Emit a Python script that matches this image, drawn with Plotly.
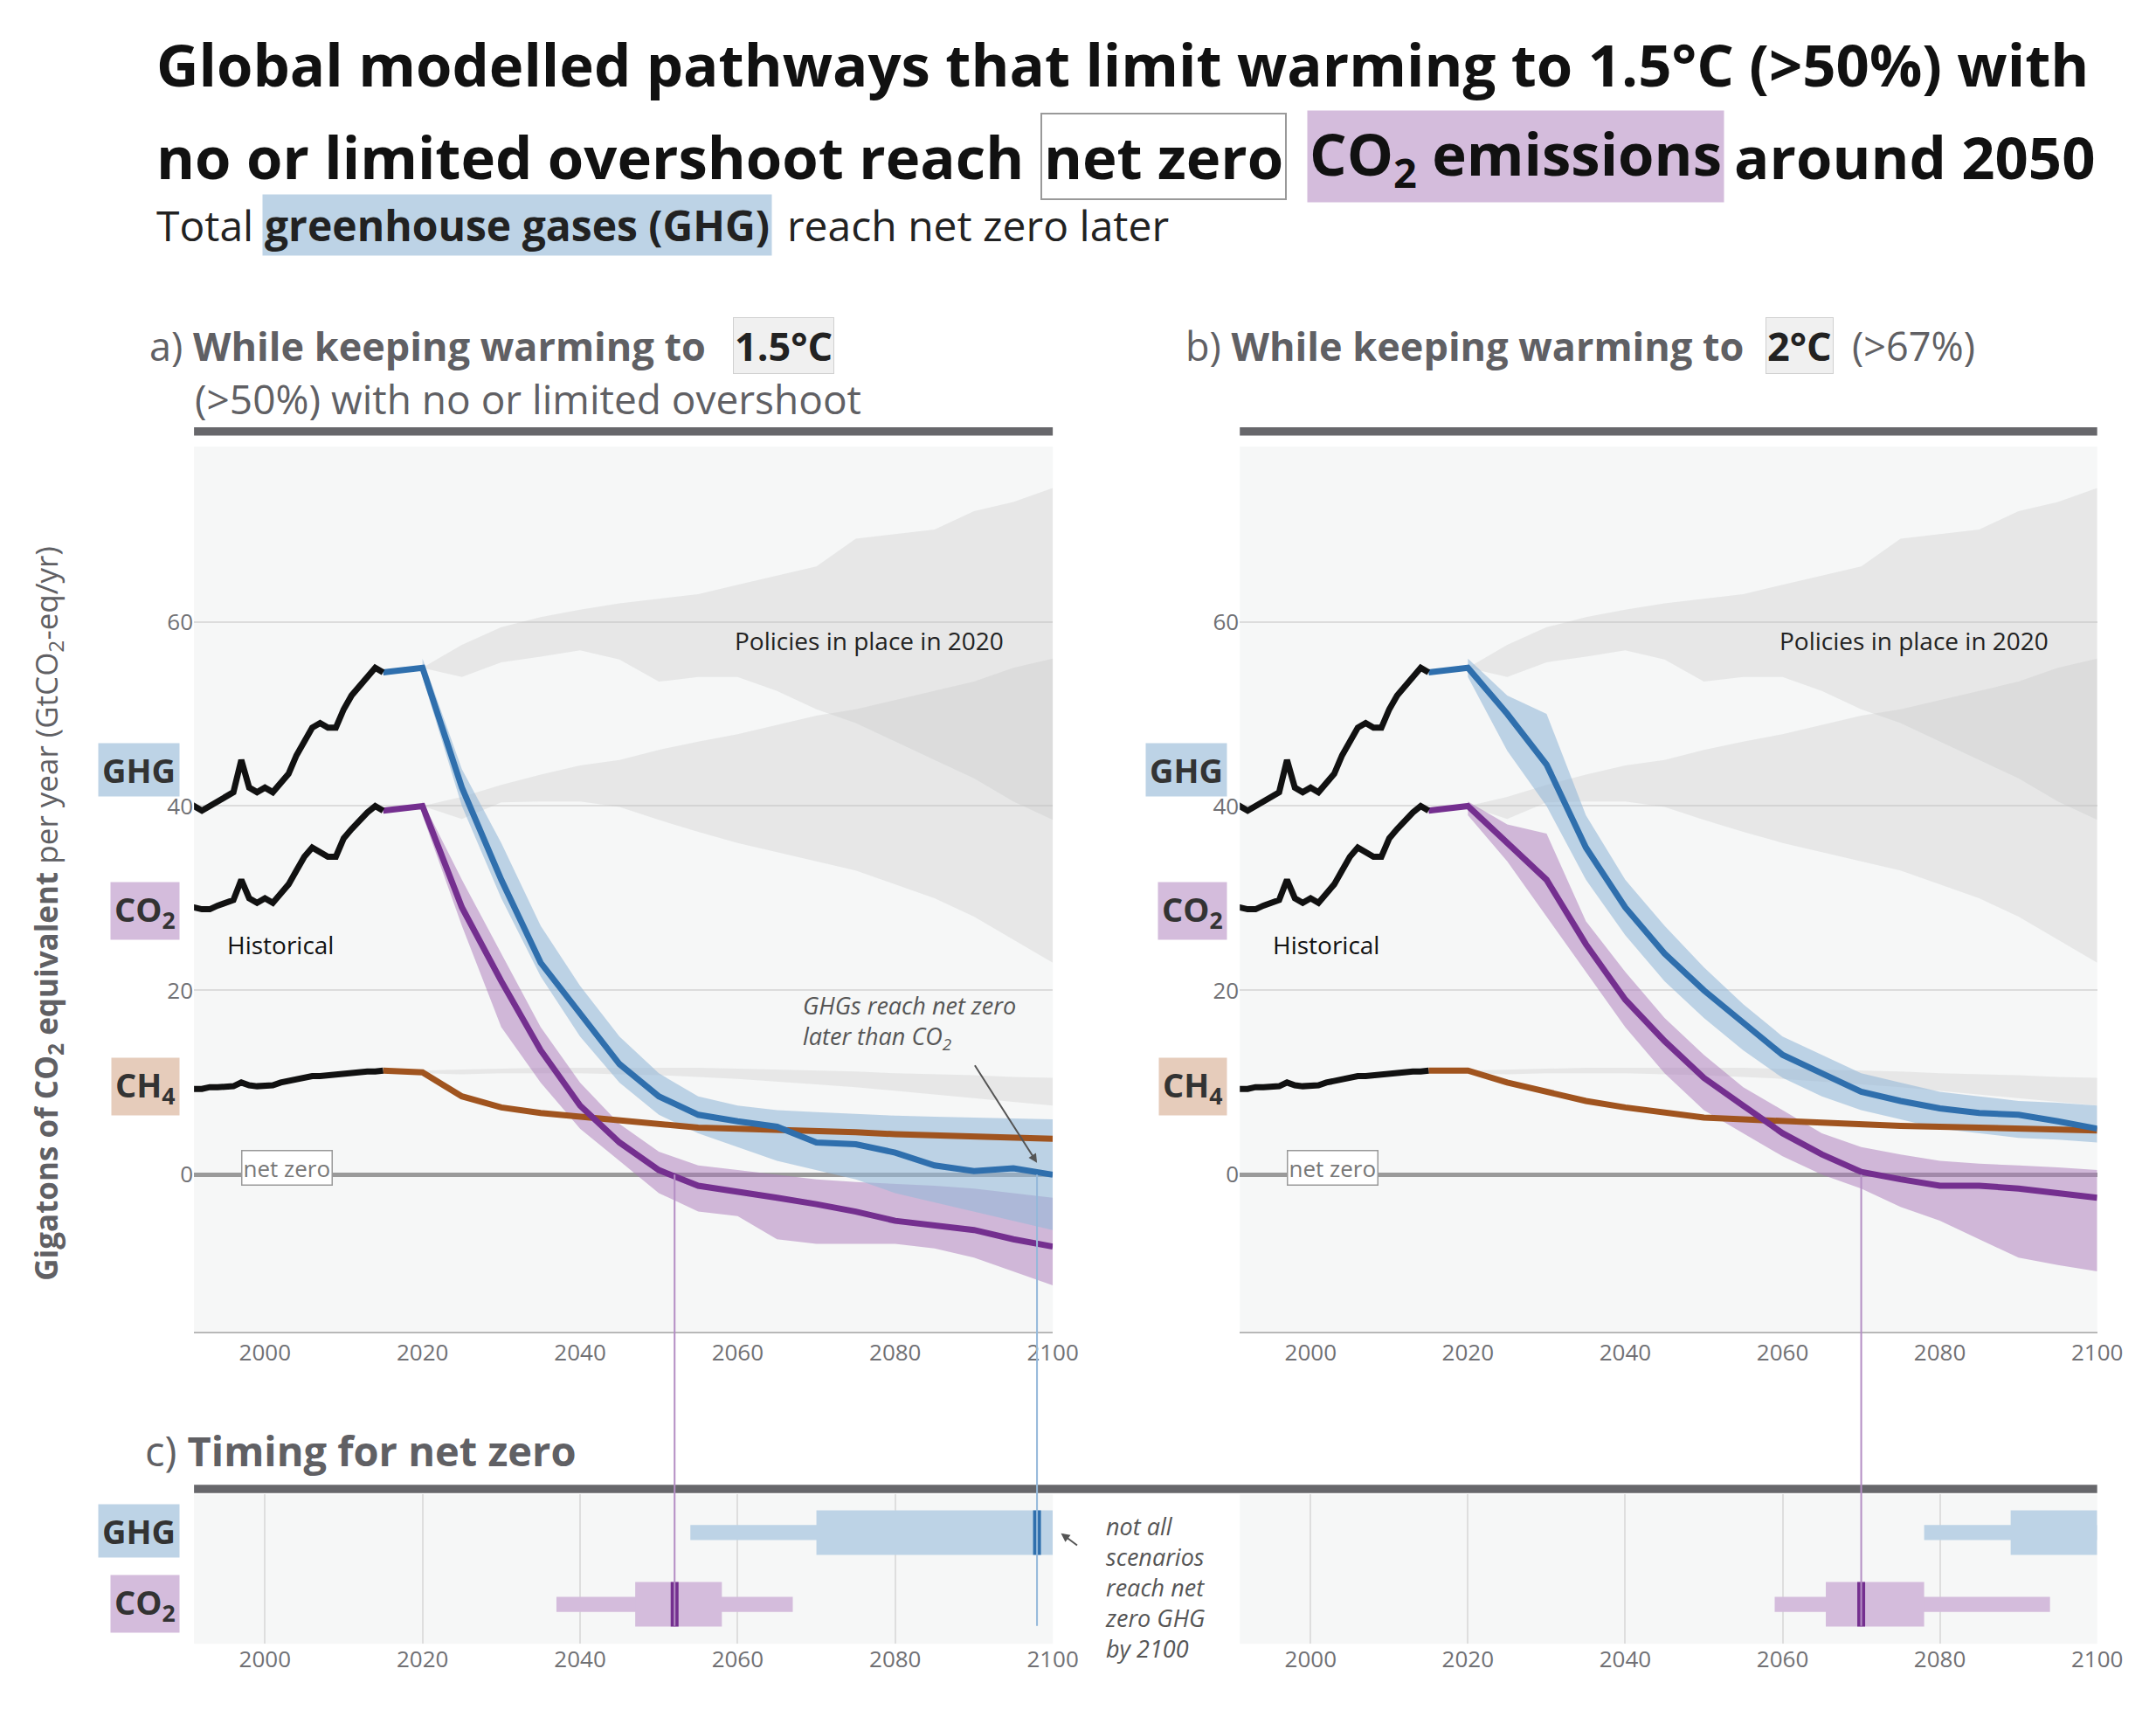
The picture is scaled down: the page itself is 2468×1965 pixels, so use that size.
import plotly.graph_objects as go

# ---- data ----
hist_years = list(range(1990, 2016))
hist_ghg = [40.5, 40, 39.5, 40, 40.5, 41, 41.5, 45, 42, 41.5, 42, 41.5, 42.5, 43.5, 45.5, 47, 48.5, 49, 48.5, 48.5, 50.5, 52, 53, 54, 55, 54.5]
hist_co2 = [29, 29, 28.8, 28.8, 29.2, 29.5, 29.8, 32, 30, 29.5, 30, 29.5, 30.5, 31.5, 33, 34.5, 35.5, 35, 34.5, 34.5, 36.5, 37.5, 38.5, 39.3, 40, 39.5]
hist_ch4 = [9.5, 9.3, 9.3, 9.5, 9.5, 9.5, 9.6, 10, 9.7, 9.6, 9.6, 9.7, 10, 10.2, 10.4, 10.6, 10.7, 10.7, 10.8, 10.8, 10.9, 11, 11.1, 11.2, 11.2, 11.3]

path_years = list(range(2015, 2101, 5))
band_years = list(range(2020, 2101, 5))

ghg_a = [54.5, 55, 42, 32, 23, 17.5, 12, 8.5, 6.5, 5.8, 5.2, 3.5, 3.3, 2.4, 1.0, 0.4, 0.7, 0]
ghg_a_hi = [56, 44, 36, 27, 20.5, 15, 11, 8.5, 7.5, 7, 6.8, 6.6, 6.4, 6.3, 6.2, 6.1, 6.0]
ghg_a_lo = [54, 40, 30, 21.5, 15, 10, 6.5, 4.5, 3, 1.5, 0.5, -0.5, -2, -3, -4, -5, -6]
co2_a = [39.5, 40, 29, 21, 13.5, 7.5, 3.5, 0.5, -1.2, -1.8, -2.5, -3.2, -4, -5, -5.5, -6, -7, -7.8]
co2_a_hi = [40.5, 32, 24, 16, 10, 5.5, 2.5, 1, 0.5, 0, -0.5, -0.8, -1, -1.2, -1.5, -2, -2.5]
co2_a_lo = [39, 27, 16, 10, 5, 1.5, -2, -4, -4.5, -7, -7.5, -7.5, -7.5, -8, -9, -10.5, -12]
ch4_a = [11.3, 11.1, 8.5, 7.3, 6.7, 6.3, 5.9, 5.5, 5.1, 5.0, 4.9, 4.8, 4.6, 4.4, 4.3, 4.2, 4.0, 3.9]

ghg_b = [54.5, 55, 50, 44.5, 35.5, 29, 24, 20, 16.5, 13, 11, 9, 8, 7.2, 6.7, 6.5, 5.8, 5]
ghg_b_hi = [56, 52, 50, 39, 32, 27, 22.5, 18.5, 15, 13, 11, 10, 9, 8.5, 8, 7.8, 7.5]
ghg_b_lo = [54, 46, 40, 32, 26, 21, 17, 13.5, 10.5, 8.5, 7, 6, 5, 4.5, 4, 3.8, 3.5]
co2_b = [39.5, 40, 36, 32, 25, 19, 14.5, 10.5, 7.5, 4.5, 2.2, 0.3, -0.5, -1.2, -1.2, -1.5, -2, -2.5]
co2_b_hi = [40.5, 38, 37, 27.5, 22, 17, 13, 9.5, 7, 4.5, 3, 2.2, 1.5, 1.2, 1, 0.8, 0.5]
co2_b_lo = [39, 34, 28, 22, 16, 11, 7, 4.5, 2, 0, -1.5, -3.5, -5, -7, -9, -9.8, -10.5]
ch4_b = [11.3, 11.3, 10, 9, 8, 7.3, 6.8, 6.2, 6.0, 5.8, 5.6, 5.4, 5.3, 5.2, 5.1, 5.0, 4.9, 4.8]

# "Policies in place in 2020": two overlapping ranges
pol_upper_hi = [55, 57.5, 59.4, 60.5, 61.3, 62, 62.5, 63, 64, 65, 66, 69, 69.5, 70, 72, 73, 74.5]
pol_upper_lo = [55, 54, 55.6, 56.2, 56.9, 55.9, 53.5, 54, 54, 52.5, 50.5, 49, 47, 45, 43, 40.5, 38.5]
pol_lower_hi = [40, 41, 42.3, 43.4, 44.4, 45, 46.1, 47, 47.8, 48.8, 49.8, 50.5, 51.5, 52.5, 53.5, 55, 56]
pol_lower_lo = [40, 38.6, 40.4, 40.5, 40.5, 39.9, 38.5, 37.2, 36, 35, 34, 33, 31.5, 30, 28, 25.5, 23]
pol_ch4_hi = [11.3, 11.4, 11.5, 11.6, 11.6, 11.6, 11.6, 11.6, 11.5, 11.4, 11.3, 11.2, 11, 10.9, 10.8, 10.6, 10.5]
pol_ch4_lo = [11, 10.9, 11, 11, 11, 10.9, 10.8, 10.6, 10.4, 10.1, 9.8, 9.5, 9.1, 8.7, 8.3, 7.9, 7.5]

# net-zero timing: [whisker lo, box lo, median, box hi, whisker hi]; None = beyond 2100
nz_ghg_a = [2054, 2070, 2098, 2100, 2100]
nz_co2_a = [2037, 2047, 2052, 2058, 2067]
nz_ghg_b = [2078, 2089, None, 2100, 2100]
nz_co2_b = [2059, 2065.5, 2070, 2078, 2094]

BLUE, BLUE_BAND = "#2f6fad", "rgba(150,185,216,0.6)"
PURPLE, PURPLE_BAND = "#742f8f", "rgba(170,120,185,0.5)"
BROWN = "#a0541f"
GREY_BAND = "rgba(195,197,197,0.3)"
FONT = "Open Sans"
TXT = "#606064"

W, H = 2468, 1965


# positions below were measured on a 1560 px wide copy of the reference
def px(v):
    return v / 1560


def py(v):
    return 1 - (v - 4) / 1242


fig = go.Figure()


def band(x, lo, hi, color, xa, ya):
    fig.add_trace(go.Scatter(x=x + x[::-1], y=hi + lo[::-1], fill="toself", fillcolor=color,
                             line=dict(width=0), mode="lines", hoverinfo="skip",
                             showlegend=False, xaxis=xa, yaxis=ya))


def line(x, y, color, xa, ya, w=7):
    fig.add_trace(go.Scatter(x=x, y=y, mode="lines", line=dict(color=color, width=w),
                             showlegend=False, xaxis=xa, yaxis=ya))


panels = [("x", "y", ghg_a, ghg_a_lo, ghg_a_hi, co2_a, co2_a_lo, co2_a_hi, ch4_a),
          ("x2", "y2", ghg_b, ghg_b_lo, ghg_b_hi, co2_b, co2_b_lo, co2_b_hi, ch4_b)]
for xa, ya, g, glo, ghi, c, clo, chi, m in panels:
    band(band_years, pol_upper_lo, pol_upper_hi, GREY_BAND, xa, ya)
    band(band_years, pol_lower_lo, pol_lower_hi, GREY_BAND, xa, ya)
    band(band_years, pol_ch4_lo, pol_ch4_hi, GREY_BAND, xa, ya)
    band(band_years, clo, chi, PURPLE_BAND, xa, ya)
    band(band_years, glo, ghi, BLUE_BAND, xa, ya)
    line(path_years, m, BROWN, xa, ya)
    line(path_years, c, PURPLE, xa, ya)
    line(path_years, g, BLUE, xa, ya)
    line(hist_years, hist_ghg, "#111111", xa, ya)
    line(hist_years, hist_co2, "#111111", xa, ya)
    line(hist_years, hist_ch4, "#111111", xa, ya)

# timing panels
timing = [("x3", "y3", nz_ghg_a, nz_co2_a), ("x4", "y4", nz_ghg_b, nz_co2_b)]
for xa, ya, g, c in timing:
    for vals, yv, col, band_col in [(g, 1, BLUE, "#bdd3e6"), (c, 0, PURPLE, "#d4bcdc")]:
        fig.add_trace(go.Bar(x=[vals[4] - vals[0]], base=[vals[0]], y=[yv], orientation="h",
                             width=0.21, marker=dict(color=band_col, line=dict(width=0)),
                             showlegend=False, xaxis=xa, yaxis=ya))
        fig.add_trace(go.Bar(x=[vals[3] - vals[1]], base=[vals[1]], y=[yv], orientation="h",
                             width=0.62, marker=dict(color=band_col, line=dict(width=0)),
                             showlegend=False, xaxis=xa, yaxis=ya))
        if vals[2] is not None:
            fig.add_trace(go.Scatter(x=[vals[2], vals[2]], y=[yv - 0.31, yv + 0.31], mode="lines",
                                     line=dict(color=col, width=9), showlegend=False,
                                     xaxis=xa, yaxis=ya))

xa_dom = [px(137), px(766)]
xb_dom = [px(903), px(1531)]
top_dom = [py(962), py(322)]
c_dom = [py(1188), py(1080)]
yr = [-17, 79]
tick_font = dict(family=FONT, size=26, color="#707074")

common_x = dict(range=[1991, 2100], tickvals=list(range(2000, 2101, 20)), showgrid=False,
                zeroline=False, tickfont=tick_font, ticks="", showline=True,
                linecolor="#b8b8b8", linewidth=2)
common_y = dict(range=yr, tickvals=[0, 20, 40, 60], gridcolor="#dcdcdc", gridwidth=1.5,
                zeroline=True, zerolinecolor="#9a9a9a", zerolinewidth=5,
                tickfont=tick_font, ticks="", showline=False)
c_x = dict(common_x, showgrid=True, gridcolor="#dedede", gridwidth=1.5, showline=False)
c_y = dict(range=[-0.55, 1.53], showticklabels=False, showgrid=False, zeroline=False)

fig.update_layout(
    width=W, height=H, margin=dict(l=0, r=0, t=0, b=0),
    paper_bgcolor="white", plot_bgcolor="#f6f7f7", barmode="overlay",
    font=dict(family=FONT, color=TXT),
    xaxis=dict(common_x, domain=xa_dom, anchor="y"),
    yaxis=dict(common_y, domain=top_dom, anchor="x"),
    xaxis2=dict(common_x, domain=xb_dom, anchor="y2"),
    yaxis2=dict(common_y, domain=top_dom, anchor="x2"),
    xaxis3=dict(c_x, domain=xa_dom, anchor="y3"),
    yaxis3=dict(c_y, domain=c_dom, anchor="x3"),
    xaxis4=dict(c_x, domain=xb_dom, anchor="y4"),
    yaxis4=dict(c_y, domain=c_dom, anchor="x4"),
)

shapes = []
# thick dark header bars
for x0, x1, yy in [(137, 766, 311), (903, 1531, 311), (137, 1531, 1076)]:
    shapes.append(dict(type="rect", xref="paper", yref="paper", x0=px(x0), x1=px(x1),
                       y0=py(yy + 3), y1=py(yy - 3), fillcolor="#67676b", line=dict(width=0)))
# vertical connector lines from the net-zero crossing down to the timing panel
zero_paper = top_dom[0] + (0 - yr[0]) / (yr[1] - yr[0]) * (top_dom[1] - top_dom[0])
for xref, xv, col in [("x", nz_co2_a[2], "#b48ec4"), ("x", nz_ghg_a[2], "#94b8da"),
                      ("x2", nz_co2_b[2], "#b48ec4")]:
    shapes.append(dict(type="line", xref=xref, yref="paper", x0=xv, x1=xv,
                       y0=zero_paper, y1=py(1175), line=dict(color=col, width=2)))
fig.update_layout(shapes=shapes)

ann = []


def text(x, y, t, size, color=TXT, xanchor="left", yanchor="middle", **kw):
    ann.append(dict(x=x, y=y, xref="paper", yref="paper", text=t, showarrow=False,
                    xanchor=xanchor, yanchor=yanchor, font=dict(family=FONT, size=size, color=color), **kw))


# title
text(px(108), py(45), "<b>Global modelled pathways that limit warming to 1.5°C (>50%) with</b>", 67, "#111")
text(px(108), py(112), "<b>no or limited overshoot reach</b>", 67, "#111")
text(px(757), py(112), "<b>net zero</b>", 67, "#111", bgcolor="white", bordercolor="#999", borderwidth=2, borderpad=2)
text(px(952), py(112), "<b>CO<sub>2</sub> emissions</b>", 67, "#111", bgcolor="#d4bcdc", borderpad=2)
text(px(1264), py(112), "<b>around 2050</b>", 67, "#111")
text(px(108), py(162), "Total", 48, "#222")
text(px(187), py(162), "<b>greenhouse gases (GHG)</b>", 48, "#222", bgcolor="#bdd3e6", borderpad=2)
text(px(570), py(162), "reach net zero later", 48, "#222")

# panel titles
text(px(103), py(249), "a) <b>While keeping warming to</b>", 45)
text(px(532), py(249), "<b>1.5°C</b>", 45, "#222", bgcolor="#f0f0f0", bordercolor="#d0d0d0", borderwidth=1)
text(px(136), py(287), "(>50%) with no or limited overshoot", 46)
text(px(862), py(249), "b) <b>While keeping warming to</b>", 45)
text(px(1288), py(249), "<b>2°C</b>", 45, "#222", bgcolor="#f0f0f0", bordercolor="#d0d0d0", borderwidth=1)
text(px(1350), py(249), "(>67%)", 45)
text(px(100), py(1048), "c) <b>Timing for net zero</b>", 47)

# series labels
for xr, yv, t, bg in [(127, 556, "<b>GHG</b>", "#bdd3e6"), (127, 658, "<b>CO<sub>2</sub></b>", "#d4bcdc"),
                      (127, 785, "<b>CH<sub>4</sub></b>", "#e6ccbb")]:
    for dx in (0, 767):
        text(px(xr + dx), py(yv), t, 38, "#333", xanchor="right", bgcolor=bg, borderpad=4)
for yv, t, bg in [(1106, "<b>GHG</b>", "#bdd3e6"), (1159, "<b>CO<sub>2</sub></b>", "#d4bcdc")]:
    text(px(127), py(yv), t, 38, "#333", xanchor="right", bgcolor=bg, borderpad=4)

# y-axis title
text(px(30), py(660), "<b>Gigatons of CO<sub>2</sub> equivalent</b> per year (GtCO<sub>2</sub>-eq/yr)", 35,
     xanchor="center", textangle=-90)

# data-anchored notes
for xa, ya in [("x", "y"), ("x2", "y2")]:
    ann.append(dict(x=2100 - 6, y=58, xref=xa, yref=ya, text="Policies in place in 2020", showarrow=False,
                    xanchor="right", font=dict(family=FONT, size=28, color="#222")))
    ann.append(dict(x=1995, y=25, xref=xa, yref=ya, text="Historical", showarrow=False,
                    xanchor="left", font=dict(family=FONT, size=28, color="#111")))
    ann.append(dict(x=1997, y=0.7, xref=xa, yref=ya, text="net zero", showarrow=False, xanchor="left",
                    bgcolor="white", bordercolor="#999", borderwidth=1.5,
                    font=dict(family=FONT, size=26, color="#777")))
ann.append(dict(x=2098, y=1.3, xref="x", yref="y", ax=2090, ay=12, axref="x", ayref="y",
                text="", showarrow=True, arrowhead=2, arrowwidth=2, arrowcolor="#555"))
ann.append(dict(x=2068, y=16.5, xref="x", yref="y", text="<i>GHGs reach net zero<br>later than CO<sub>2</sub></i>",
                showarrow=False, xanchor="left", align="left", font=dict(family=FONT, size=27, color="#555")))
ann.append(dict(x=px(803), y=py(1090), xref="paper", yref="paper",
                text="<i>not all<br>scenarios<br>reach net<br>zero GHG<br>by 2100</i>", showarrow=False,
                xanchor="left", yanchor="top", align="left", font=dict(family=FONT, size=27, color="#555")))
ann.append(dict(x=px(772), y=py(1108), xref="paper", yref="paper", ax=20, ay=15,
                text="", showarrow=True, arrowhead=2, arrowwidth=2, arrowcolor="#555"))
fig.update_layout(annotations=ann)

fig.write_html("out.html")
